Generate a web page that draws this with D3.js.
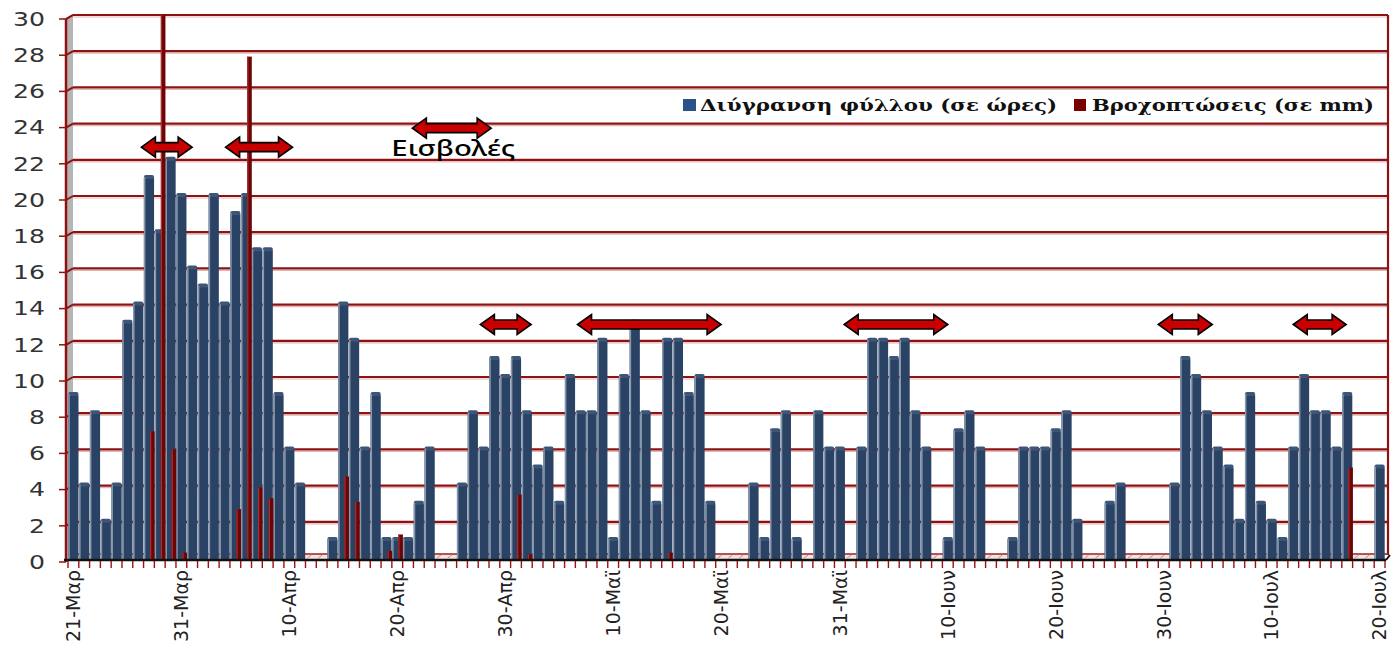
<!DOCTYPE html>
<html>
<head>
<meta charset="utf-8">
<script src="https://d3js.org/d3.v7.min.js"></script>
<style>
  body { margin: 0; background: #fff; }
  svg { display: block; }
  .ytick text { font-family: "DejaVu Sans", sans-serif; font-size: 19px; fill: #333; }
  .xlab { font-family: "DejaVu Sans", sans-serif; font-size: 19px; fill: #222; }
  .legend text { font-family: "DejaVu Serif", serif; font-weight: bold; font-size: 17px; fill: #111; }
</style>
</head>
<body>
<svg id="chart" width="1391" height="654"></svg>
<script>
// daily values, 21 Mar -> 20 Jul (122 days)
var wetness = [
  9, 4, 8, 2, 4, 13, 14, 21, 18, 22,
  20, 16, 15, 20, 14, 19, 20, 17, 17, 9,
  6, 4, 0, 0, 1, 14, 12, 6, 9, 1,
  1, 1, 3, 6, 0, 0, 4, 8, 6, 11,
  10, 11, 8, 5, 6, 3, 10, 8, 8, 12,
  1, 10, 13, 8, 3, 12, 12, 9, 10, 3,
  0, 0, 0, 4, 1, 7, 8, 1, 0, 8,
  6, 6, 0, 6, 12, 12, 11, 12, 8, 6,
  0, 1, 7, 8, 6, 0, 0, 1, 6, 6,
  6, 7, 8, 2, 0, 0, 3, 4, 0, 0,
  0, 0, 4, 11, 10, 8, 6, 5, 2, 9,
  3, 2, 1, 6, 10, 8, 8, 6, 9, 0,
  0, 5
];
var rain = [
  0, 0, 0, 0, 0, 0, 0, 7, 30, 6,
  0.3, 0, 0, 0, 0, 2.7, 27.7, 3.9, 3.3, 0,
  0, 0, 0, 0, 0, 4.5, 3.1, 0, 0, 0.4,
  1.3, 0, 0, 0, 0, 0, 0, 0, 0, 0,
  0, 3.5, 0.2, 0, 0, 0, 0, 0, 0, 0,
  0, 0, 0, 0, 0, 0.3, 0, 0, 0, 0,
  0, 0, 0, 0, 0, 0, 0, 0, 0, 0,
  0, 0, 0, 0, 0, 0, 0, 0, 0, 0,
  0, 0, 0, 0, 0, 0, 0, 0, 0, 0,
  0, 0, 0, 0, 0, 0, 0, 0, 0, 0,
  0, 0, 0, 0, 0, 0, 0, 0, 0, 0,
  0, 0, 0, 0, 0, 0, 0, 0, 5, 0,
  0, 0
];
var months = ['Ιαν', 'Φεβ', 'Μαρ', 'Απρ', 'Μαϊ', 'Ιουν', 'Ιουλ'];
var tickLabels = ['21-Μαρ', '31-Μαρ', '10-Απρ', '20-Απρ', '30-Απρ', '10-Μαϊ', '20-Μαϊ',
                  '31-Μαϊ', '10-Ιουν', '20-Ιουν', '30-Ιουν', '10-Ιουλ', '20-Ιουλ'];
var yTicks = d3.range(0, 31, 2);

// invasion periods (day index from 21 Mar) and the height where the arrow sits
var invStart = [6.8, 14.6, 31.9, 38.2, 47.2, 71.9, 101.0, 113.5];
var invEnd   = [11.5, 20.8, 39.2, 42.9, 60.5, 81.5, 106.0, 118.4];
var invLevel = [22.7, 22.7, 23.75, 12.9, 12.9, 12.9, 12.9, 12.9];

var days = d3.timeDay.range(new Date(2010, 2, 21), new Date(2010, 6, 21));
var cats = days.map(function(d) { return d.getDate() + '-' + months[d.getMonth()]; });
var data = cats.map(function(c, i) { return { cat: c, i: i, w: wetness[i], r: rain[i] }; });

var svg = d3.select('#chart');
var x0 = 68, x1 = 1385, right = 1388;

var x = d3.scaleBand().domain(cats).range([x0, x1]).paddingInner(0).paddingOuter(0);
var xDay = d3.scaleLinear().domain([0, cats.length]).range([x0, x1]);
var y = d3.scaleLinear().domain([0, 30]).range([558, 15]);
var bw = x.bandwidth();
var front = 4; // 3d offset of the front axis

// left wall
svg.append('polygon')
  .attr('points', [[66, y(30) + front], [73, y(30)], [73, y(0)], [66, y(0) + front]].join(' '))
  .attr('fill', '#b5b5b5');

// grid lines on back wall + wall
var grid = svg.append('g');
yTicks.forEach(function(v) {
  if (v === 0) return;
  grid.append('line').attr('x1', 73).attr('x2', right).attr('y1', y(v) + 2).attr('y2', y(v) + 2)
    .attr('stroke', '#e3b5b5').attr('stroke-width', 1.2);
  grid.append('line').attr('x1', 73).attr('x2', right).attr('y1', y(v)).attr('y2', y(v))
    .attr('stroke', '#8e1212').attr('stroke-width', 2.2);
  grid.append('line').attr('x1', 66).attr('x2', 73).attr('y1', y(v) + front).attr('y2', y(v))
    .attr('stroke', '#8e1212').attr('stroke-width', 2);
});
svg.append('line').attr('x1', right).attr('x2', right).attr('y1', y(30)).attr('y2', y(0) - 3)
  .attr('stroke', '#8e1212').attr('stroke-width', 2.2);

// floor
svg.append('rect').attr('x', x0).attr('y', y(0) - 4).attr('width', x1 - x0).attr('height', 5)
  .attr('fill', '#f3e2e2');
svg.append('line').attr('x1', x0).attr('x2', right).attr('y1', y(0) - 4).attr('y2', y(0) - 4)
  .attr('stroke', '#a01c1c').attr('stroke-width', 1.5);
svg.selectAll('.hatch').data(data).enter().append('line')
  .attr('class', 'hatch')
  .attr('x1', function(d) { return x(d.cat) + 2; })
  .attr('x2', function(d) { return x(d.cat) + 6; })
  .attr('y1', y(0)).attr('y2', y(0) - 3)
  .attr('stroke', '#c98a8a').attr('stroke-width', 1);

// wetness bars
var wet = data.filter(function(d) { return d.w > 0; });
svg.selectAll('.wbar').data(wet).enter().append('rect')
  .attr('class', 'wbar')
  .attr('x', function(d) { return x(d.cat) + 0.3; })
  .attr('y', function(d) { return y(d.w); })
  .attr('width', bw - 0.6)
  .attr('height', function(d) { return y(0) + 1 - y(d.w); })
  .attr('fill', '#2a4264');
svg.selectAll('.wcap').data(wet).enter().append('rect')
  .attr('class', 'wcap')
  .attr('x', function(d) { return x(d.cat) + 0.3; })
  .attr('y', function(d) { return y(d.w) - 3; })
  .attr('width', bw - 0.6)
  .attr('height', 4)
  .attr('rx', 2)
  .attr('fill', '#3d5677');
svg.selectAll('.wside').data(wet).enter().append('rect')
  .attr('class', 'wside')
  .attr('x', function(d) { return x(d.cat) + 0.3; })
  .attr('y', function(d) { return y(d.w) - 1; })
  .attr('width', 1.5)
  .attr('height', function(d) { return y(0) + 2 - y(d.w); })
  .attr('fill', '#8798ae');

// rain bars
var wetRain = data.filter(function(d) { return d.r > 0; });
svg.selectAll('.rbar').data(wetRain).enter().append('rect')
  .attr('class', 'rbar')
  .attr('x', function(d) { return x(d.cat) + bw * 0.6; })
  .attr('y', function(d) { return Math.min(y(d.r), y(0) - 3); })
  .attr('width', 4.6)
  .attr('height', function(d) { return Math.max(y(0) + 1 - y(d.r), 4); })
  .attr('fill', '#6d0505');
svg.selectAll('.rside').data(wetRain).enter().append('rect')
  .attr('class', 'rside')
  .attr('x', function(d) { return x(d.cat) + bw * 0.6; })
  .attr('y', function(d) { return Math.min(y(d.r), y(0) - 3); })
  .attr('width', 1.2)
  .attr('height', function(d) { return Math.max(y(0) + 1 - y(d.r), 4); })
  .attr('fill', '#a83030');

// front left axis
svg.append('line').attr('x1', 66).attr('x2', 66).attr('y1', y(30) + front).attr('y2', y(0) + front)
  .attr('stroke', '#8e1212').attr('stroke-width', 2.5);
svg.append('line').attr('x1', 66).attr('x2', 73).attr('y1', y(30) + front).attr('y2', y(30))
  .attr('stroke', '#8e1212').attr('stroke-width', 2);

var yAxis = svg.append('g').attr('class', 'ytick');
yTicks.forEach(function(v) {
  yAxis.append('line').attr('x1', 59).attr('x2', 66).attr('y1', y(v) + front).attr('y2', y(v) + front)
    .attr('stroke', '#8e1212').attr('stroke-width', 1.5);
  yAxis.append('text').attr('x', 45).attr('y', y(v) + front).attr('dy', '0.36em')
    .attr('text-anchor', 'end')
    .attr('textLength', String(v).length * 16)
    .attr('lengthAdjust', 'spacingAndGlyphs')
    .text(v);
});

// bottom axis
var baseY = y(0) + 2;
svg.append('line').attr('x1', 64).attr('x2', x1 + 1).attr('y1', baseY).attr('y2', baseY)
  .attr('stroke', '#111').attr('stroke-width', 2.5);
svg.append('line').attr('x1', x1 + 1).attr('x2', right + 2).attr('y1', baseY).attr('y2', baseY - 5)
  .attr('stroke', '#111').attr('stroke-width', 2);
svg.selectAll('.xt').data(cats.concat(['end'])).enter().append('line')
  .attr('class', 'xt')
  .attr('x1', function(d, i) { return xDay(i); })
  .attr('x2', function(d, i) { return xDay(i); })
  .attr('y1', baseY + 1).attr('y2', baseY + 8)
  .attr('stroke', '#a01010').attr('stroke-width', 1.4);

svg.selectAll('.xlab').data(tickLabels).enter().append('text')
  .attr('class', 'xlab')
  .attr('transform', function(d) { return 'translate(' + (x(d) + bw / 2) + ',' + (baseY + 10) + ') rotate(-90)'; })
  .attr('text-anchor', 'end')
  .attr('dy', '0.36em')
  .text(function(d) { return d; });

// invasion arrows
function arrowPath(a, b, c) {
  var h = 14, hw = 10, sw = 4.5;
  return 'M' + a + ',' + c +
    'L' + (a + h) + ',' + (c - hw) + 'L' + (a + h) + ',' + (c - sw) +
    'L' + (b - h) + ',' + (c - sw) + 'L' + (b - h) + ',' + (c - hw) +
    'L' + b + ',' + c +
    'L' + (b - h) + ',' + (c + hw) + 'L' + (b - h) + ',' + (c + sw) +
    'L' + (a + h) + ',' + (c + sw) + 'L' + (a + h) + ',' + (c + hw) + 'Z';
}
svg.selectAll('.arrow').data(invStart).enter().append('path')
  .attr('class', 'arrow')
  .attr('d', function(d, i) { return arrowPath(xDay(invStart[i]), xDay(invEnd[i]), y(invLevel[i])); })
  .attr('fill', '#c80000')
  .attr('stroke', '#000')
  .attr('stroke-width', 1.6)
  .attr('stroke-linejoin', 'miter');

svg.append('text')
  .attr('x', xDay(35.7)).attr('y', y(22.65))
  .attr('text-anchor', 'middle')
  .attr('dy', '0.35em')
  .attr('textLength', 124)
  .attr('lengthAdjust', 'spacingAndGlyphs')
  .style('font-family', '"Noto Sans", sans-serif')
  .style('font-size', '22px')
  .style('font-weight', '500')
  .style('fill', '#000')
  .text('Εισβολές');

// legend
var legend = svg.append('g').attr('class', 'legend');
legend.append('rect').attr('x', 683).attr('y', 99).attr('width', 13).attr('height', 12).attr('fill', '#2b5189');
legend.append('text').attr('x', 700).attr('y', 111)
  .attr('textLength', 357).attr('lengthAdjust', 'spacingAndGlyphs')
  .text('Διύγρανση φύλλου (σε ώρες)');
legend.append('rect').attr('x', 1074).attr('y', 99).attr('width', 12).attr('height', 12).attr('fill', '#7a0000');
legend.append('text').attr('x', 1092).attr('y', 111)
  .attr('textLength', 282).attr('lengthAdjust', 'spacingAndGlyphs')
  .text('Βροχοπτώσεις (σε mm)');
</script>
</body>
</html>
